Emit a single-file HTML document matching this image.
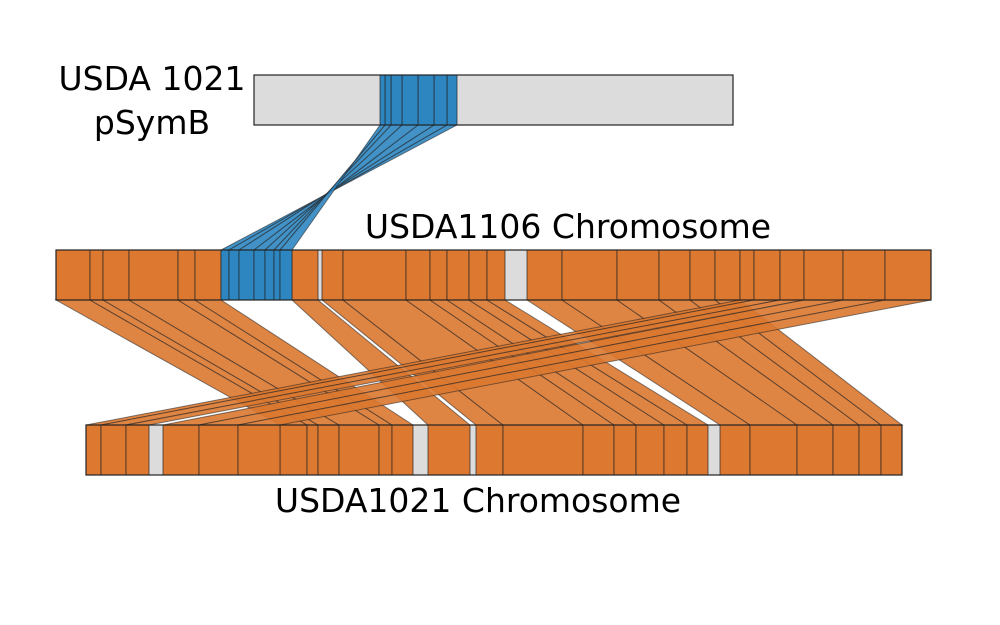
<!DOCTYPE html>
<html><head><meta charset="utf-8"><style>
html,body{margin:0;padding:0;background:#fff}
svg{display:block}
text{font-family:"DejaVu Sans","Liberation Sans",sans-serif;fill:#000}
</style></head><body>
<svg id="chart" width="1000" height="625" viewBox="0 0 1000 625" xmlns="http://www.w3.org/2000/svg">
<g id="ribbons"></g>
<g id="bars"></g>
<text x="152" y="90" font-size="33" text-anchor="middle">USDA 1021</text>
<text x="152" y="134" font-size="33" text-anchor="middle">pSymB</text>
<text x="568" y="238" font-size="33" text-anchor="middle">USDA1106 Chromosome</text>
<text x="478" y="512" font-size="33" text-anchor="middle">USDA1021 Chromosome</text>
</svg>
<script>
// Genome lengths (kb)
const genomeLen = {top: 1916, mid: 3500, bot: 3264};
// Track pixel extents
const tracks = {
  top: {x0: 254, x1: 733, y: 75, h: 50},
  mid: {x0: 56, x1: 931, y: 250, h: 50},
  bot: {x0: 86, x1: 902, y: 425, h: 50}
};
// Middle -> bottom blocks (kb)
const mbMidStart = [0,136,188,292,488,556, 944, 1064,1148,1400,1496,1564,1652,1724, 1884,2024,2244,2412,2536,2636, 2736,2792,2896, 2992,3148,3316];
const mbMidEnd   = [136,188,292,488,556,660, 1048, 1148,1400,1496,1564,1652,1724,1796, 2024,2244,2412,2536,2636,2736, 2792,2896,2992, 3148,3316,3500];
const mbBotStart = [776,884,928,1012,1172,1224, 1368, 1560,1668,1988,2112,2200,2312,2404, 2536,2656,2844,2988,3092,3180, 0,60,160, 308,452,608];
const mbBotEnd   = [884,928,1012,1172,1224,1308, 1536, 1668,1988,2112,2200,2312,2404,2488, 2656,2844,2988,3092,3180,3264, 60,160,252, 452,608,776];
// Middle -> top (pSymB) blocks (kb), inverted orientation
const mtMidStart = [660,692,732,792,836,872,896];
const mtMidEnd   = [692,732,792,836,872,896,944];
const mtTopStart = [772,720,656,592,548,524,504];
const mtTopEnd   = [812,772,720,656,592,548,524];

const NS = "http://www.w3.org/2000/svg";
function sx(track, v){const t=tracks[track];return t.x0+(t.x1-t.x0)*v/genomeLen[track];}
const rib = document.getElementById('ribbons');
const bars = document.getElementById('bars');
function mk(tag, attrs){const e=document.createElementNS(NS,tag);for(const k in attrs)e.setAttribute(k,attrs[k]);return e;}

['top','mid','bot'].forEach(k=>{
  const t=tracks[k];
  const r=mk('rect',{x:t.x0,y:t.y,width:t.x1-t.x0,height:t.h,fill:'#dcdcdc',stroke:'#222','stroke-width':1});
  
  
  bars.appendChild(r);
});

function addRibbon(a,as,ae,b,bs,be,inv,color,name){
  const ta=tracks[a], tb=tracks[b];
  const ya = (ta.y<tb.y)? ta.y+ta.h : ta.y;
  const yb = (ta.y<tb.y)? tb.y : tb.y+tb.h;
  const b1 = inv ? be : bs, b2 = inv ? bs : be;
  const p=mk('polygon',{points:`${sx(a,as)},${ya} ${sx(a,ae)},${ya} ${sx(b,b2)},${yb} ${sx(b,b1)},${yb}`,fill:color,'fill-opacity':0.9,stroke:'#222','stroke-opacity':0.55,'stroke-width':1});
  
  
  rib.appendChild(p);
  [[a,as,ae],[b,bs,be]].forEach(([tk,s,e])=>{
    const t=tracks[tk];
    const r=mk('rect',{x:sx(tk,s),y:t.y,width:sx(tk,e)-sx(tk,s),height:t.h,fill:color,stroke:'#222','stroke-opacity':0.7,'stroke-width':1});
    
    
    bars.appendChild(r);
  });
}
for(let i=0;i<mbMidStart.length;i++) addRibbon('mid',mbMidStart[i],mbMidEnd[i],'bot',mbBotStart[i],mbBotEnd[i],false,'#dc7830','chromosome-synteny-ribbon');
for(let i=0;i<mtMidStart.length;i++) addRibbon('top',mtTopStart[i],mtTopEnd[i],'mid',mtMidStart[i],mtMidEnd[i],true,'#2e86c1','psymb-synteny-ribbon');
['top','mid','bot'].forEach(k=>{
  const t=tracks[k];
  const r=mk('rect',{x:t.x0,y:t.y,width:t.x1-t.x0,height:t.h,fill:'none',stroke:'#222','stroke-width':1.2});
  
  
  bars.appendChild(r);
});
</script>
</body></html>
